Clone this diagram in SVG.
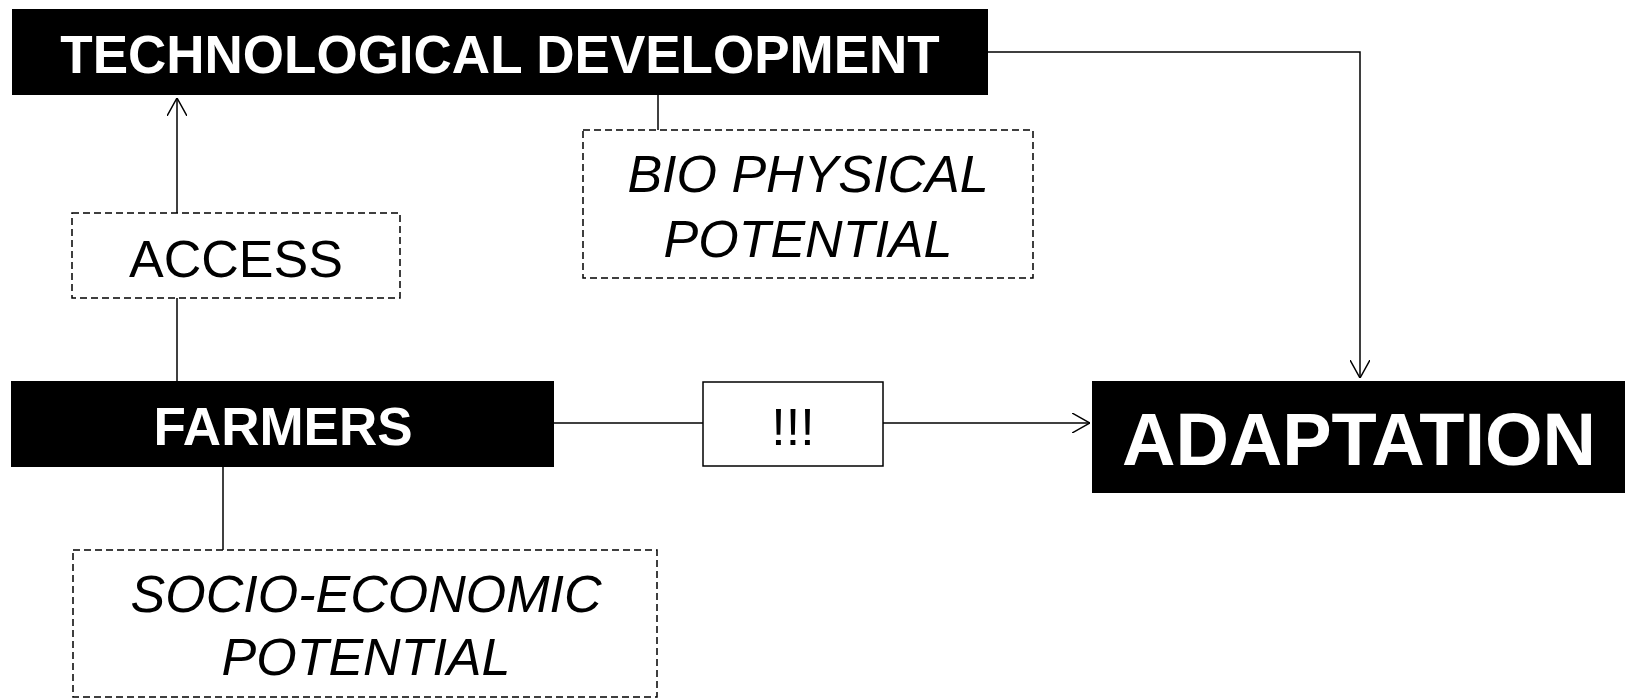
<svg xmlns="http://www.w3.org/2000/svg" width="1625" height="700" viewBox="0 0 1625 700">
<style>
.blk{fill:#000}
.dash{fill:#fff;stroke:#000;stroke-width:1.5;stroke-dasharray:7 4}
.solid{fill:#fff;stroke:#000;stroke-width:1.5}
.wt{fill:#fff;font-family:"Liberation Sans",Arial,sans-serif;font-weight:bold;text-anchor:middle}
.bt{fill:#000;font-family:"Liberation Sans",Arial,sans-serif;text-anchor:middle;font-size:52px}
.it{font-style:italic}
.ln{fill:none;stroke:#000;stroke-width:1.5}
</style>
<defs>
<marker id="arr" viewBox="0 0 18 20" refX="18" refY="10" markerWidth="18" markerHeight="20" markerUnits="userSpaceOnUse" orient="auto">
<path d="M0,0 L18,10 L0,20" fill="none" stroke="#000" stroke-width="1.5"/>
</marker>
</defs>
<rect width="1625" height="700" fill="#fff"/>
<g id="connectors">
<line class="ln" x1="177" y1="213" x2="177" y2="98" marker-end="url(#arr)"/>
<line class="ln" x1="177" y1="298" x2="177" y2="381"/>
<line class="ln" x1="658" y1="95" x2="658" y2="130"/>
<polyline class="ln" points="988,52 1360,52 1360,378" marker-end="url(#arr)"/>
<line class="ln" x1="223" y1="467" x2="223" y2="550"/>
<line class="ln" x1="554" y1="423" x2="703" y2="423"/>
<line class="ln" x1="883" y1="423" x2="1090" y2="423" marker-end="url(#arr)"/>
</g>
<g id="tech">
<rect class="blk" x="12" y="9" width="976" height="86"/>
<text class="wt" x="500" y="73" font-size="53">TECHNOLOGICAL DEVELOPMENT</text>
</g>
<g id="access">
<rect class="dash" x="72" y="213" width="328" height="85"/>
<text class="bt" x="236" y="277" font-size="53">ACCESS</text>
</g>
<g id="bio">
<rect class="dash" x="583" y="130" width="450" height="148"/>
<text class="bt it" x="808" y="192">BIO PHYSICAL</text>
<text class="bt it" x="808" y="257">POTENTIAL</text>
</g>
<g id="farmers">
<rect class="blk" x="11" y="381" width="543" height="86"/>
<text class="wt" x="283" y="445" font-size="53">FARMERS</text>
</g>
<g id="socio">
<rect class="dash" x="73" y="550" width="584" height="147"/>
<text class="bt it" x="366" y="612">SOCIO-ECONOMIC</text>
<text class="bt it" x="366" y="675">POTENTIAL</text>
</g>
<g id="excl">
<rect class="solid" x="703" y="382" width="180" height="84"/>
<text class="bt" x="793" y="445">!!!</text>
</g>
<g id="adaptation">
<rect class="blk" x="1092" y="381" width="533" height="112"/>
<text class="wt" x="1359" y="465" font-size="74">ADAPTATION</text>
</g>
</svg>
